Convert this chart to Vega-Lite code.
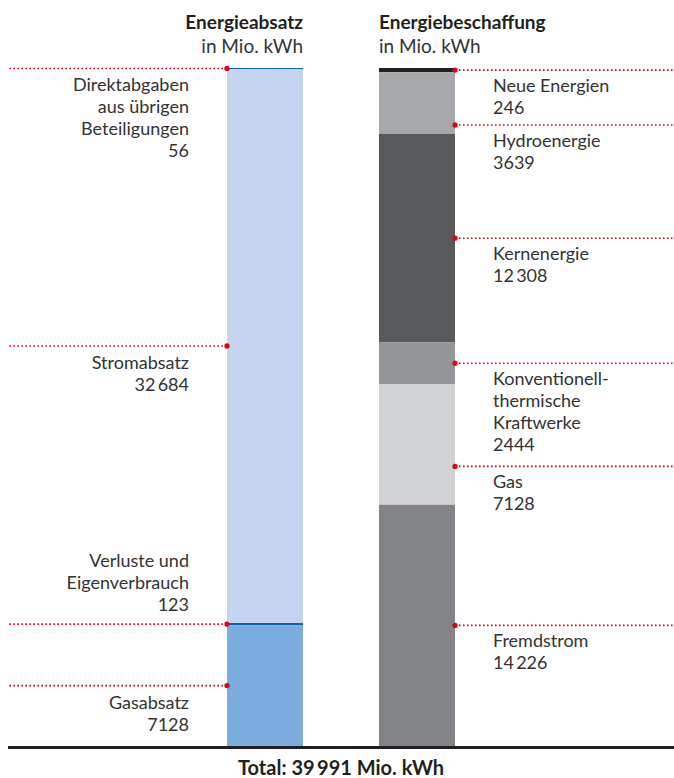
{
  "$schema": "https://vega.github.io/schema/vega-lite/v6.json",
  "width": 666,
  "height": 678,
  "autosize": "none",
  "padding": {"left": 8, "top": 68, "right": 0, "bottom": 32},
  "background": "white",
  "config": {
    "view": {"stroke": null},
    "font": "Lato",
    "locale": {"number": {"decimal": ",", "thousands": "\u2009", "grouping": [3], "currency": ["", " €"]}}
  },
  "title": {
    "text": "Total: 39\u2009991 Mio. kWh",
    "orient": "bottom",
    "anchor": "middle",
    "font": "Lato",
    "fontSize": 20,
    "fontWeight": "bold",
    "color": "#231F20",
    "offset": 10
  },
  "data": {
    "values": [
      {"side": "Absatz", "name": "Direktabgaben\naus übrigen\nBeteiligungen", "value": 56},
      {"side": "Absatz", "name": "Stromabsatz", "value": 32684},
      {"side": "Absatz", "name": "Verluste und\nEigenverbrauch", "value": 123},
      {"side": "Absatz", "name": "Gasabsatz", "value": 7128},
      {"side": "Beschaffung", "name": "Neue Energien", "value": 246},
      {"side": "Beschaffung", "name": "Hydroenergie", "value": 3639},
      {"side": "Beschaffung", "name": "Kernenergie", "value": 12308},
      {"side": "Beschaffung", "name": "Konventionell-\nthermische\nKraftwerke", "value": 2444},
      {"side": "Beschaffung", "name": "Gas", "value": 7128},
      {"side": "Beschaffung", "name": "Fremdstrom", "value": 14226}
    ]
  },
  "transform": [
    {"stack": "value", "groupby": ["side"], "as": ["y0", "y1"]},
    {"calculate": "(datum.y0 + datum.y1) / 2", "as": "mid"},
    {"calculate": "datum.name + '\\n' + (datum.value >= 10000 ? format(datum.value, ',') : format(datum.value, 'd'))", "as": "label"}
  ],
  "resolve": {"axis": {"x": "independent"}},
  "layer": [
    {
      "mark": {"type": "bar", "strokeWidth": 0},
      "encoding": {
        "x": {
          "field": "side", "type": "nominal",
          "scale": {"type": "band", "domain": ["Absatz", "Beschaffung"], "range": [219, 447], "paddingInner": 0.5, "paddingOuter": 0},
          "axis": {
            "orient": "top", "title": null, "domain": false, "ticks": false, "tickSize": 0,
            "labelAngle": 0, "labelOverlap": false, "labelPadding": 40, "labelBaseline": "alphabetic",
            "labelExpr": "datum.value == 'Absatz' ? 'Energieabsatz' : 'Energiebeschaffung'",
            "labelFont": "Lato", "labelFontSize": 19, "labelFontWeight": "bold", "labelColor": "#231F20",
            "labelAlign": {"condition": {"test": "datum.value == 'Absatz'", "value": "right"}, "value": "left"},
            "labelOffset": {"condition": {"test": "datum.value == 'Absatz'", "value": 38}, "value": -38}
          }
        },
        "y": {"field": "y0", "type": "quantitative", "scale": {"reverse": true, "nice": false, "zero": true}, "axis": null},
        "y2": {"field": "y1"},
        "color": {
          "field": "name", "type": "nominal", "legend": null,
          "scale": {
            "domain": ["Direktabgaben\naus übrigen\nBeteiligungen", "Stromabsatz", "Verluste und\nEigenverbrauch", "Gasabsatz", "Neue Energien", "Hydroenergie", "Kernenergie", "Konventionell-\nthermische\nKraftwerke", "Gas", "Fremdstrom"],
            "range": ["#0A62A8", "#C5D4EE", "#0A62A8", "#7AADDE", "#231F20", "#A7A8AB", "#58595B", "#939598", "#D1D2D4", "#828387"]
          }
        }
      }
    },
    {
      "mark": {"type": "rule", "color": "#231F20", "strokeWidth": 3, "yOffset": 1.5},
      "encoding": {
        "x": {"value": 0},
        "x2": {"value": "width"},
        "y": {"aggregate": "max", "field": "y1", "type": "quantitative", "axis": null}
      }
    },
    {
      "transform": [{"filter": "datum.side == 'Absatz' && indexof(datum.name, 'Verluste') < 0"}],
      "encoding": {
        "x": {
          "field": "side", "type": "nominal", "bandPosition": 0,
          "axis": {
            "orient": "top", "title": null, "domain": false, "ticks": false, "tickSize": 0,
            "labelAngle": 0, "labelOverlap": false, "labelPadding": 16, "labelBaseline": "alphabetic",
            "labelExpr": "'in Mio. kWh'",
            "labelFont": "Lato", "labelFontSize": 19, "labelColor": "#333333",
            "labelAlign": {"condition": {"test": "datum.value == 'Absatz'", "value": "right"}, "value": "left"},
            "labelOffset": {"condition": {"test": "datum.value == 'Absatz'", "value": 38}, "value": -38}
          }
        },
        "y": {"field": "mid", "type": "quantitative", "axis": null}
      },
      "layer": [
        {"mark": {"type": "rule", "color": "#E2001A", "strokeWidth": 1.6, "strokeDash": [1.6, 2.4]}, "encoding": {"x2": {"value": 0}}},
        {"mark": {"type": "point", "filled": true, "color": "#E2001A", "size": 28, "opacity": 1}},
        {"mark": {"type": "text", "align": "right", "baseline": "alphabetic", "dx": -38, "dy": 23, "lineHeight": 22, "lineBreak": "\n", "font": "Lato", "fontSize": 18, "color": "#333333"}, "encoding": {"text": {"field": "label"}}}
      ]
    },
    {
      "transform": [{"filter": "datum.side == 'Absatz' && indexof(datum.name, 'Verluste') == 0"}],
      "encoding": {
        "x": {"field": "side", "type": "nominal", "bandPosition": 0, "axis": null},
        "y": {"field": "mid", "type": "quantitative", "axis": null}
      },
      "layer": [
        {"mark": {"type": "rule", "color": "#E2001A", "strokeWidth": 1.6, "strokeDash": [1.6, 2.4]}, "encoding": {"x2": {"value": 0}}},
        {"mark": {"type": "point", "filled": true, "color": "#E2001A", "size": 28, "opacity": 1}},
        {"mark": {"type": "text", "align": "right", "baseline": "alphabetic", "dx": -38, "dy": -57, "lineHeight": 22, "lineBreak": "\n", "font": "Lato", "fontSize": 18, "color": "#333333"}, "encoding": {"text": {"field": "label"}}}
      ]
    },
    {
      "transform": [{"filter": "datum.side == 'Beschaffung' && datum.name != 'Hydroenergie' && datum.name != 'Gas'"}],
      "encoding": {
        "x": {"field": "side", "type": "nominal", "bandPosition": 1, "axis": null},
        "y": {"field": "mid", "type": "quantitative", "axis": null}
      },
      "layer": [
        {"mark": {"type": "rule", "color": "#E2001A", "strokeWidth": 1.6, "strokeDash": [1.6, 2.4]}, "encoding": {"x2": {"value": "width"}}},
        {"mark": {"type": "point", "filled": true, "color": "#E2001A", "size": 28, "opacity": 1}},
        {"mark": {"type": "text", "align": "left", "baseline": "alphabetic", "dx": 38, "dy": 22, "lineHeight": 22, "lineBreak": "\n", "font": "Lato", "fontSize": 18, "color": "#333333"}, "encoding": {"text": {"field": "label"}}}
      ]
    },
    {
      "transform": [{"filter": "datum.side == 'Beschaffung' && (datum.name == 'Hydroenergie' || datum.name == 'Gas')"}],
      "encoding": {
        "x": {"field": "side", "type": "nominal", "bandPosition": 1, "axis": null},
        "y": {"field": "mid", "type": "quantitative", "axis": null}
      },
      "layer": [
        {"mark": {"type": "rule", "color": "#E2001A", "strokeWidth": 1.6, "strokeDash": [1.6, 2.4], "yOffset": 22}, "encoding": {"x2": {"value": "width"}}},
        {"mark": {"type": "point", "filled": true, "color": "#E2001A", "size": 28, "opacity": 1, "yOffset": 22}},
        {"mark": {"type": "text", "align": "left", "baseline": "alphabetic", "dx": 38, "dy": 44, "lineHeight": 22, "lineBreak": "\n", "font": "Lato", "fontSize": 18, "color": "#333333"}, "encoding": {"text": {"field": "label"}}}
      ]
    }
  ]
}
